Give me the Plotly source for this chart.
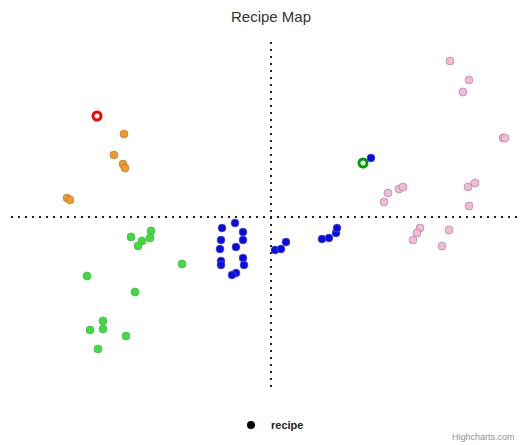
import plotly.graph_objects as go

# ---- data ----
orange_x = [-1.47, -1.57, -1.48, -1.46, -2.04, -2.01]
orange_y = [0.83, 0.62, 0.53, 0.49, 0.19, 0.17]

green_x = [-1.20, -1.40, -1.21, -1.29, -1.33, -0.89, -1.84, -1.36, -1.68, -1.81, -1.68, -1.45, -1.73]
green_y = [-0.14, -0.20, -0.21, -0.24, -0.29, -0.47, -0.59, -0.75, -1.04, -1.13, -1.12, -1.19, -1.32]

blue_x = [-0.36, -0.49, -0.28, -0.50, -0.28, -0.35, -0.51, -0.28, -0.50, -0.27, -0.50, -0.35, -0.39,
          0.04, 0.10, 0.15, 0.51, 0.58, 0.65, 0.66, 1.00]
blue_y = [-0.06, -0.11, -0.15, -0.23, -0.23, -0.30, -0.32, -0.41, -0.44, -0.48, -0.48, -0.56, -0.58,
          -0.33, -0.32, -0.25, -0.22, -0.21, -0.16, -0.11, 0.59]

pink_x = [1.79, 1.98, 1.92, 2.32, 2.34, 1.17, 1.13, 1.28, 1.32, 1.97, 2.04, 1.98, 1.49, 1.46, 1.42, 1.78, 1.71]
pink_y = [1.56, 1.37, 1.25, 0.79, 0.79, 0.24, 0.15, 0.28, 0.30, 0.30, 0.34, 0.11, -0.11, -0.16, -0.23, -0.13, -0.29]

red_ring_x = [-1.74]
red_ring_y = [1.01]
green_ring_x = [0.92]
green_ring_y = [0.54]

series_name = "recipe"
title_text = "Recipe Map"
credit_text = "Highcharts.com"

x_range = [-2.60, 2.52]
y_range = [-1.70, 1.75]

FONT = "Liberation Sans, Arial, Helvetica, sans-serif"

# the page body adds an 8px offset; compensate in the layout
OFF = 8
PL, PR_EDGE, PT, PB_EDGE = 11 - OFF, 523 - OFF, 42 - OFF, 387 - OFF
PW = PR_EDGE - PL
PH = PB_EDGE - PT

fig = go.Figure()

groups = [
    (orange_x, orange_y, "#F7951C"),
    (green_x, green_y, "#33E433"),
    (blue_x, blue_y, "#0A0AF2"),
    (pink_x, pink_y, "#F5B8DA"),
]
for gx, gy, col in groups:
    fig.add_trace(go.Scatter(
        x=gx, y=gy, mode="markers", showlegend=False, hoverinfo="x+y",
        marker=dict(size=8, color=col, line=dict(width=1, color="rgba(120,120,120,0.5)")),
    ))

fig.add_trace(go.Scatter(
    x=red_ring_x, y=red_ring_y, mode="markers", showlegend=False,
    marker=dict(size=8, color="white", line=dict(width=3, color="#FF0000")),
))
fig.add_trace(go.Scatter(
    x=green_ring_x, y=green_ring_y, mode="markers", showlegend=False,
    marker=dict(size=8, color="white", line=dict(width=3, color="#009E00")),
))

# legend entry
fig.add_trace(go.Scatter(
    x=[None], y=[None], mode="markers", name="<b>" + series_name + "</b>", showlegend=True,
    marker=dict(size=8, color="black"),
))

# dotted zero lines
fig.add_shape(type="line", xref="x", yref="paper", x0=0, x1=0, y0=0, y1=1,
              line=dict(color="#222222", width=2, dash="2px,5px"), layer="below")
fig.add_shape(type="line", xref="paper", yref="y", x0=0, x1=1, y0=0, y1=0,
              line=dict(color="#222222", width=2, dash="2px,5px"), layer="below")

fig.add_annotation(text=credit_text, xref="paper", yref="paper",
                   x=(517 - OFF - PL) / PW, y=(PB_EDGE - (437 - OFF)) / PH,
                   xanchor="right", yanchor="middle",
                   showarrow=False, font=dict(size=9, color="#909090", family=FONT))

fig.update_layout(
    width=527, height=445,
    margin=dict(l=PL, r=527 - PR_EDGE, t=PT, b=445 - PB_EDGE),
    paper_bgcolor="white", plot_bgcolor="white",
    font=dict(family=FONT, color="#333333"),
    title=dict(text=title_text, x=(271 - OFF - PL) / PW, xref="paper", xanchor="center",
               y=1 - (17 - OFF) / 445, yanchor="middle",
               font=dict(size=15, color="#333333", family=FONT)),
    xaxis=dict(range=x_range, showgrid=False, zeroline=False, showticklabels=False,
               showline=False, ticks="", fixedrange=True),
    yaxis=dict(range=y_range, showgrid=False, zeroline=False, showticklabels=False,
               showline=False, ticks="", fixedrange=True),
    legend=dict(orientation="h", x=(270 - OFF - PL) / PW, xanchor="center",
                y=(PB_EDGE - (425 - OFF)) / PH, yanchor="middle",
                font=dict(size=11, color="#222222", family=FONT), itemwidth=30),
    showlegend=True,
)

fig.write_html("out.html")
